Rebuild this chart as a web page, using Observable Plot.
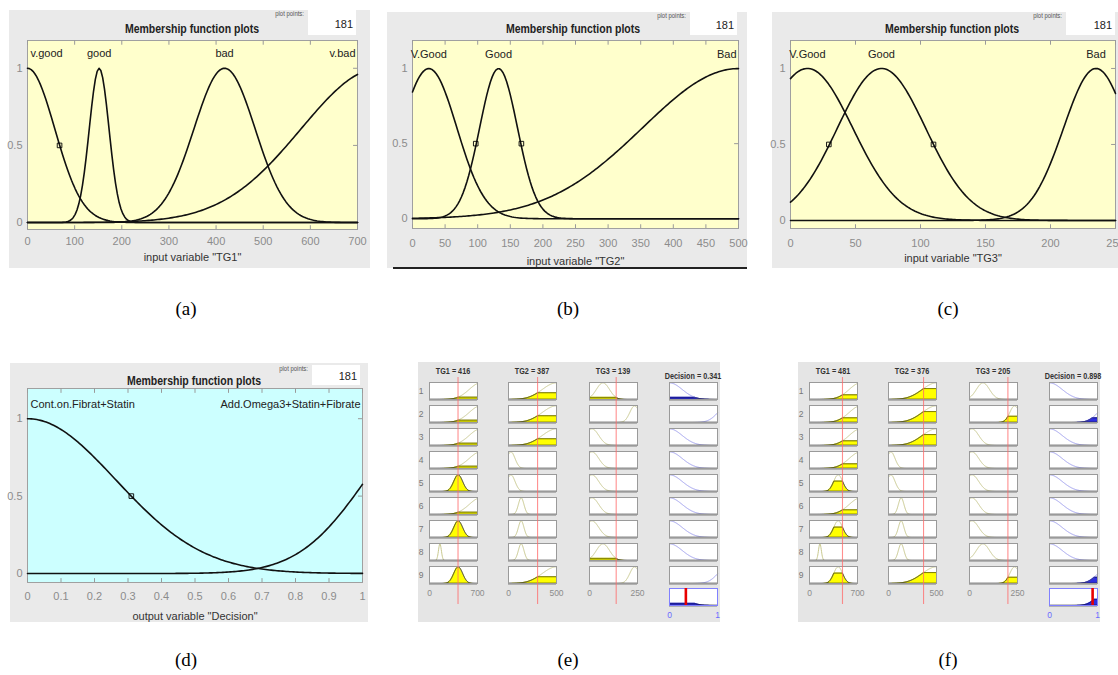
<!DOCTYPE html>
<html><head><meta charset="utf-8">
<script src="https://cdn.jsdelivr.net/npm/d3@7"></script>
<script src="https://cdn.jsdelivr.net/npm/@observablehq/plot@0.6"></script>
<style>
body{margin:0;background:#fff;overflow:hidden;}
#root{position:relative;width:1118px;height:675px;overflow:hidden;background:#fff;}
.abs{position:absolute;}
.abs svg{display:block;max-width:none;}
</style></head><body><div id="root"></div>
<script>
const FONT = '"Liberation Sans Narrow","Liberation Sans",Arial,sans-serif';
const SERIF = '"Liberation Serif","Times New Roman",serif';
const plotPoints = 181;

// ---- membership functions (gaussian: centre, sigma) ----
const tg1Names = ["v.good","good","bad","v.bad"];
const tg1Centers = [0,152,418,748];
const tg1Sigmas = [58,21,65,168];
const tg1Range = [0,700];
const tg1Ticks = [0,100,200,300,400,500,600,700];
const tg1Handles = [68];

const tg2Names = ["V.Good","Good","Bad"];
const tg2Centers = [25,132,500];
const tg2Sigmas = [43,29,147];
const tg2Range = [0,500];
const tg2Ticks = [0,50,100,150,200,250,300,350,400,450,500];
const tg2Handles = [97,167];

const tg3Names = ["V.Good","Good","Bad"];
const tg3Centers = [13,70,235];
const tg3Sigmas = [35,34,25];
const tg3Range = [0,250];
const tg3Ticks = [0,50,100,150,200,250];
const tg3Handles = [29.5,110];

const decNames = ["Cont.on.Fibrat+Statin","Add.Omega3+Statin+Fibrate"];
const decCenters = [0,1.21];
const decSigmas = [0.263,0.2];
const decRange = [0,1];
const decTicks = [0,0.1,0.2,0.3,0.4,0.5,0.6,0.7,0.8,0.9,1];
const decHandles = [0.31];

const yTicks = [0,0.5,1];

// ---- rule base (MF index used by each rule, 0-based) ----
const ruleTG1 = [3,3,3,3,2,3,2,1,2];
const ruleTG2 = [2,2,2,0,0,1,1,1,2];
const ruleTG3 = [1,2,0,0,0,0,0,1,2];
const ruleOut = [0,1,0,0,0,0,0,0,1];

// ---- rule viewer states ----
const viewEShown = [416,387,139];
const viewELine  = [416,303,139];
const viewEDecision = 0.341;
const viewFShown = [481,376,205];
const viewFLine  = [481,365,200];
const viewFDecision = 0.898;

const captions = ["(a)","(b)","(c)","(d)","(e)","(f)"];

// ---------------------------------------------------------------
const root = document.getElementById("root");
const gauss = (x,c,s) => Math.exp(-((x-c)**2)/(2*s*s));
const sample = r => d3.range(plotPoints).map(i => r[0] + (r[1]-r[0])*i/(plotPoints-1));
const fmt = d => String(d);

function place(el, x, y){ const d=document.createElement("div"); d.className="abs"; d.style.left=x+"px"; d.style.top=y+"px"; d.appendChild(el); root.appendChild(d); return d; }
function box(x,y,w,h,bg,extra=""){ const d=document.createElement("div"); d.className="abs"; d.style.cssText=`left:${x}px;top:${y}px;width:${w}px;height:${h}px;background:${bg};${extra}`; root.appendChild(d); return d; }
function txt(s,x,y,o={}){
  const {size=11,weight="normal",color="#000",anchor="middle",family=FONT,sx=1}=o;
  const d=document.createElement("div"); d.className="abs"; d.textContent=s;
  const tx = anchor==="middle"?-50:anchor==="end"?-100:0;
  const origin = anchor==="middle"?"center":anchor==="end"?"right":"left";
  d.style.cssText=`left:${x}px;top:${y}px;font-family:${family};font-size:${size}px;font-weight:${weight};color:${color};white-space:nowrap;line-height:1;transform-origin:${origin} center;transform:translate(${tx}%,-50%) scaleX(${sx});`;
  root.appendChild(d); return d;
}

function mfPanel(o){
  const {bx,by,bw,bh,pl,pt,pr,pb,names,centers,sigmas,range,ticks,handles,ydom,label,bg,tickPad,labelDy,titleX,titleY,boxX,boxY,boxW,boxH,ppY} = o;
  const xs = sample(range);
  const curves = names.flatMap((n,k)=> xs.map(x=>({name:n,x,y:gauss(x,centers[k],sigmas[k])})));
  const labels = names.map((n,k)=>({name:n,x:Math.min(Math.max(centers[k],range[0]),range[1]),
    anchor: centers[k]<=range[0]?"start":centers[k]>=range[1]?"end":"middle"}));
  const span = range[1]-range[0], yspan = ydom[1]-ydom[0];
  const svg = Plot.plot({
    width:bw, height:bh,
    marginLeft:pl-bx, marginTop:pt-by, marginRight:bx+bw-pr, marginBottom:by+bh-pb,
    x:{domain:range}, y:{domain:ydom},
    style:{background:"#eaeaea",overflow:"visible",fontFamily:FONT,fontSize:"11px"},
    marks:[
      Plot.frame({fill:bg,stroke:"#a0a0a0"}),
      Plot.ruleX(ticks,{y1:ydom[1],y2:ydom[1]-yspan*0.025,stroke:"#9a9a9a"}),
      Plot.ruleX(ticks,{y1:ydom[0],y2:ydom[0]+yspan*0.02,stroke:"#9a9a9a"}),
      Plot.ruleY(yTicks,{x1:range[1],x2:range[1]-span*0.012,stroke:"#9a9a9a"}),
      Plot.line(curves,{x:"x",y:"y",z:"name",stroke:"#111",strokeWidth:1.6}),
      Plot.dot(handles.map(x=>({x})),{x:"x",y:0.5,symbol:"square",r:2.6,stroke:"#000",fill:"none",strokeWidth:0.9}),
      Plot.text(labels.filter(d=>d.anchor==="start"),{x:"x",y:1.095,text:"name",textAnchor:"start",dx:3,fill:"#222",fontSize:11}),
      Plot.text(labels.filter(d=>d.anchor==="middle"),{x:"x",y:1.095,text:"name",textAnchor:"middle",fill:"#222",fontSize:11}),
      Plot.text(labels.filter(d=>d.anchor==="end"),{x:"x",y:1.095,text:"name",textAnchor:"end",dx:-2,fill:"#222",fontSize:11}),
      Plot.axisX({ticks,tickFormat:fmt,tickSize:0,tickPadding:tickPad,fill:"#8c8c8c",label:null,fontSize:11}),
      Plot.axisY({ticks:yTicks,tickFormat:fmt,tickSize:0,tickPadding:5,fill:"#8c8c8c",label:null,fontSize:11}),
      Plot.text([label],{frameAnchor:"bottom",dy:labelDy,text:d=>d,fill:"#333",fontSize:11})
    ]
  });
  place(svg,bx,by);
  txt("Membership function plots",titleX,titleY,{size:12.5,weight:"bold",color:"#222",sx:0.84});
  txt("plot points:",boxX-4,ppY,{size:7,color:"#555",anchor:"end",sx:0.85});
  box(boxX,boxY,boxW,boxH,"#fff");
  txt(String(plotPoints),boxX+boxW-3,boxY+boxH/2+1,{size:11,color:"#222",anchor:"end"});
}

mfPanel({bx:9,by:10,bw:361,bh:258,pl:27,pt:40,pr:357,pb:229,names:tg1Names,centers:tg1Centers,sigmas:tg1Sigmas,range:tg1Range,ticks:tg1Ticks,handles:tg1Handles,ydom:[-0.045,1.18],label:'input variable "TG1"',bg:"#ffffcc",tickPad:8,labelDy:31,titleX:192,titleY:29,boxX:308,boxY:10,boxW:48,boxH:25,ppY:13});
mfPanel({bx:387,by:12,bw:360,bh:256,pl:412,pt:40,pr:738,pb:228,names:tg2Names,centers:tg2Centers,sigmas:tg2Sigmas,range:tg2Range,ticks:tg2Ticks,handles:tg2Handles,ydom:[-0.065,1.187],label:'input variable "TG2"',bg:"#ffffcc",tickPad:11,labelDy:36,titleX:573,titleY:29,boxX:690,boxY:12,boxW:47,boxH:23,ppY:15});
box(393,267,354,1.5,"#222");
mfPanel({bx:772,by:12,bw:346,bh:256,pl:790,pt:40,pr:1115,pb:228,names:tg3Names,centers:tg3Centers,sigmas:tg3Sigmas,range:tg3Range,ticks:tg3Ticks,handles:tg3Handles,ydom:[-0.053,1.184],label:'input variable "TG3"',bg:"#ffffcc",tickPad:11,labelDy:33,titleX:952,titleY:29,boxX:1066,boxY:12,boxW:49,boxH:23,ppY:15});
mfPanel({bx:10,by:363,bw:358,bh:259,pl:27,pt:388,pr:362,pb:582,names:decNames,centers:decCenters,sigmas:decSigmas,range:decRange,ticks:decTicks,handles:decHandles,ydom:[-0.058,1.195],label:'output variable "Decision"',bg:"#ccffff",tickPad:10,labelDy:37,titleX:194,titleY:381,boxX:312,boxY:365,boxW:48,boxH:20,ppY:368});

// ---------------- rule viewers ----------------
const inVars = [
  {title:"TG1",centers:tg1Centers,sigmas:tg1Sigmas,range:tg1Range,rule:ruleTG1},
  {title:"TG2",centers:tg2Centers,sigmas:tg2Sigmas,range:tg2Range,rule:ruleTG2},
  {title:"TG3",centers:tg3Centers,sigmas:tg3Sigmas,range:tg3Range,rule:ruleTG3}
];

function cell({range,c,s,level,line,fill,edge,frame,axisColor=null,extra=[],series=null}){
  const W=48,H=17,AX=axisColor?15:0;
  const xs = sample(range);
  const pts = series || xs.map(x=>{const m=gauss(x,c,s);return {x,m,f:Math.min(m,level)};});
  const marks = [
    Plot.frame({fill:"#fff",stroke:"none"}),
    Plot.areaY(pts,{x:"x",y:"f",fill:fill}),
  ];
  if(!series) marks.push(Plot.line(pts,{x:"x",y:"m",stroke:line,strokeWidth:1}));
  marks.push(
    Plot.line(pts,{x:"x",y:"f",stroke:edge,strokeWidth:0.9}),
    Plot.ruleY([0],{stroke:"#1a1a1a",strokeWidth:1.4}),
    Plot.frame({stroke:frame}),
    ...extra
  );
  if(axisColor) marks.push(Plot.axisX({ticks:range,tickFormat:fmt,tickSize:0,tickPadding:6,fill:axisColor,label:null,fontSize:8.5}));
  return Plot.plot({width:W+2,height:H+2+AX,marginLeft:1,marginRight:1,marginTop:1,marginBottom:1+AX,
    x:{domain:range,axis:null},y:{domain:[0,1.02],axis:null},
    style:{background:"transparent",overflow:"visible",fontFamily:FONT},marks});
}

function viewer(ox,shown,lineAt,decision){
  box(ox+418,362,302,260,"#e5e5e5");
  const colLeft=[429,508,589,669].map(v=>v+ox);
  const rowTop = r => 382+23*r;
  // rule firing strengths (AND = min)
  const firing = d3.range(9).map(r=>d3.min(inVars.map((v,j)=>gauss(lineAt[j],v.centers[v.rule[r]],v.sigmas[v.rule[r]]))));
  for(let r=0;r<9;r++){
    txt(String(r+1),ox+421,rowTop(r)+8.5,{size:8.5,color:"#777"});
    inVars.forEach((v,j)=>{
      const k=v.rule[r];
      const lvl=gauss(lineAt[j],v.centers[k],v.sigmas[k]);
      place(cell({range:v.range,c:v.centers[k],s:v.sigmas[k],level:lvl,line:"#c9c98f",fill:"#ffff00",edge:"#3a3a10",frame:"#9a9a9a",axisColor:r===8?"#8c8c8c":null}),colLeft[j]-1,rowTop(r)-1);
    });
    const k=ruleOut[r];
    place(cell({range:decRange,c:decCenters[k],s:decSigmas[k],level:firing[r],line:"#9d9df0",fill:"#2e2ee0",edge:"#14146a",frame:"#9a9a9a"}),colLeft[3]-1,rowTop(r)-1);
  }
  // aggregated output
  const agg = sample(decRange).map(x=>{
    const f=d3.max(d3.range(9).map(r=>Math.min(gauss(x,decCenters[ruleOut[r]],decSigmas[ruleOut[r]]),firing[r])));
    return {x,f};
  });
  place(cell({range:decRange,series:agg,fill:"#2e2ee0",edge:"#14146a",frame:"#8080ff",axisColor:"#6b6bff",
    extra:[Plot.ruleX([decision],{stroke:"#e80000",strokeWidth:2.6})]}),colLeft[3]-1,587);
  // headers
  inVars.forEach((v,j)=>txt(`${v.title} = ${shown[j]}`,colLeft[j]+24,371,{size:8.5,weight:"bold",color:"#333",sx:0.85}));
  txt(`Decision = ${decision}`,colLeft[3]+24,376,{size:8.5,weight:"bold",color:"#333",sx:0.85});
  // input cross-hair lines
  inVars.forEach((v,j)=>{
    const svg=Plot.plot({width:50,height:227,marginLeft:1,marginRight:1,marginTop:0,marginBottom:0,
      x:{domain:v.range,axis:null},style:{background:"transparent"},
      marks:[Plot.ruleX([lineAt[j]],{stroke:"#ff6a6a",strokeOpacity:0.75,strokeWidth:1.1})]});
    const d=place(svg,colLeft[j]-1,377); d.style.pointerEvents="none";
  });
}
viewer(0,viewEShown,viewELine,viewEDecision);
viewer(380,viewFShown,viewFLine,viewFDecision);

// captions
[[186,308],[568,308],[948,308],[186,659],[568,659],[948,659]].forEach(([x,y],i)=>txt(captions[i],x,y,{size:19,family:SERIF,color:"#000"}));
</script></body></html>
